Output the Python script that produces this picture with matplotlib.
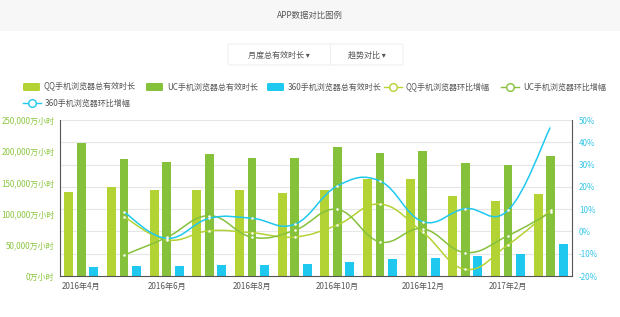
#!/usr/bin/env python3
"""APP数据对比图例 - bars with smoothed growth lines"""

import numpy as np
import matplotlib
matplotlib.use('Agg')
import matplotlib.pyplot as plt
from matplotlib.path import Path
from matplotlib.patches import PathPatch, Rectangle, FancyBboxPatch
from matplotlib.lines import Line2D
from matplotlib.ticker import FuncFormatter

plt.rcParams['font.family'] = ['Noto Sans CJK SC', 'DejaVu Sans']

months = ['2016年4月', '2016年5月', '2016年6月', '2016年7月', '2016年8月', '2016年9月',
          '2016年10月', '2016年11月', '2016年12月', '2017年1月', '2017年2月', '2017年3月']
qq_hours = [135000, 143000, 138000, 138000, 138000, 133500, 138000, 155500, 155000, 127700, 120700, 131900]
uc_hours = [212600, 187000, 182000, 195000, 188500, 188500, 207000, 197600, 199800, 181000, 177900, 192300]
s360_hours = [15000, 16500, 16000, 17000, 17600, 18700, 22400, 27200, 29300, 32000, 35300, 51300]
# month-on-month growth, %, starting at 2016年5月
qq_growth = [6.6, -3.8, 0.3, -0.6, -2.5, 2.9, 12.3, -0.3, -17.0, -6.0, 9.5]
uc_growth = [-10.6, -2.7, 7.1, -2.6, 0.5, 9.9, -4.7, 1.2, -9.5, -1.9, 8.5]
s360_growth = [8.7, -3.1, 5.9, 5.9, 3.2, 20.4, 22.6, 4.4, 10.2, 9.5, 47.0]

QQ_COLOR = '#b3d234'
UC_COLOR = '#86c13c'
C360_COLOR = '#1fc8ef'
LEFT_COLOR = '#8cc63f'
RIGHT_COLOR = '#37c6e8'
TEXT_COLOR = '#555555'
FS = 5.8


def smooth_path(xs, ys, k=0.2):
  # bezier through the points, control points from neighbours
  pts = np.column_stack([xs, ys])
  n = len(pts)
  verts = [pts[0]]
  codes = [Path.MOVETO]
  for i in range(n - 1):
    p0 = pts[max(i - 1, 0)]
    p1 = pts[i]
    p2 = pts[i + 1]
    p3 = pts[min(i + 2, n - 1)]
    c1 = p1 + (p2 - p0) * k
    c2 = p2 - (p3 - p1) * k
    verts += [c1, c2, p2]
    codes += [Path.CURVE4] * 3
  return Path(verts, codes)


fig = plt.figure(figsize=(6.2, 3.17), dpi=100)
W, H = 620, 317

def fx(px):
  return px / W

def fy(py):
  return 1 - py / H

# header band
fig.patches.append(Rectangle((0, fy(31)), 1, 31 / H, transform=fig.transFigure,
                             facecolor='#f7f7f7', edgecolor='none', zorder=0))
fig.text(0.5, fy(15), 'APP数据对比图例', ha='center', va='center', fontsize=6.0, color=TEXT_COLOR)

# buttons
fig.patches.append(FancyBboxPatch((fx(228), fy(65)), fx(175), 21 / H, boxstyle='round,pad=0,rounding_size=0.004',
                                  transform=fig.transFigure, facecolor='white', edgecolor='#ebebeb', lw=0.6))
fig.lines.append(Line2D([fx(330), fx(330)], [fy(65), fy(44)], transform=fig.transFigure, color='#ebebeb', lw=0.6))
fig.text(fx(279), fy(55), '月度总有效时长 ▾', ha='center', va='center', fontsize=FS, color=TEXT_COLOR,
         family=['Noto Sans CJK SC', 'DejaVu Sans'])
fig.text(fx(367), fy(55), '趋势对比 ▾', ha='center', va='center', fontsize=FS, color=TEXT_COLOR,
         family=['Noto Sans CJK SC', 'DejaVu Sans'])

# legend
bar_items = [(23, 87, QQ_COLOR, 'QQ手机浏览器总有效时长'),
             (146, 87, UC_COLOR, 'UC手机浏览器总有效时长'),
             (267, 87, C360_COLOR, '360手机浏览器总有效时长')]
for x, y, c, t in bar_items:
  fig.patches.append(FancyBboxPatch((fx(x), fy(y + 4)), fx(17), 8 / H, boxstyle='round,pad=0,rounding_size=0.003',
                                    transform=fig.transFigure, facecolor=c, edgecolor='none'))
  fig.text(fx(x + 21), fy(y), t, ha='left', va='center', fontsize=FS, color=TEXT_COLOR)
line_items = [(384, 87, QQ_COLOR, 'QQ手机浏览器环比增幅'),
              (501, 87, UC_COLOR, 'UC手机浏览器环比增幅'),
              (23, 103, C360_COLOR, '360手机浏览器环比增幅')]
for x, y, c, t in line_items:
  fig.lines.append(Line2D([fx(x), fx(x + 18)], [fy(y), fy(y)], transform=fig.transFigure, color=c, lw=1))
  fig.lines.append(Line2D([fx(x + 9)], [fy(y)], transform=fig.transFigure, marker='o', markersize=5.5,
                          markerfacecolor='white', markeredgecolor=c, markeredgewidth=1, color=c))
  fig.text(fx(x + 22), fy(y), t, ha='left', va='center', fontsize=FS, color=TEXT_COLOR)

# axes
ax = fig.add_axes([fx(60), fy(276), fx(572 - 60), (276 - 120) / H])
ax2 = ax.twinx()

n = len(months)
x = np.arange(n)
bw = 0.21
gap = 0.295
ax.bar(x - gap, qq_hours, bw, color=QQ_COLOR, zorder=2)
ax.bar(x, uc_hours, bw, color=UC_COLOR, zorder=2)
ax.bar(x + gap, s360_hours, bw, color=C360_COLOR, zorder=2)
ax.set_xlim(-0.5, n - 0.5)
ax.set_ylim(0, 250000)
ax.set_yticks(np.arange(0, 250001, 50000))
ax.yaxis.set_major_formatter(FuncFormatter(lambda v, p: '{:,}万小时'.format(int(v))))
ax.set_xticks(x[::2])
ax.set_xticklabels(months[::2])

ax2.set_ylim(-20, 50)
ax2.set_yticks(np.arange(-20, 51, 10))
ax2.yaxis.set_major_formatter(FuncFormatter(lambda v, p: '{:d}%'.format(int(v))))
for v in np.arange(-10, 51, 10):
  ax.axhline((v + 20) / 70 * 250000, color='#e6e6e6', lw=0.8, zorder=0)

xl = x[1:]
for vals, c in [(qq_growth, QQ_COLOR), (uc_growth, UC_COLOR), (s360_growth, C360_COLOR)]:
  ax2.add_patch(PathPatch(smooth_path(xl, vals), facecolor='none', edgecolor=c, lw=1.1, zorder=3))
  ax2.plot(xl, vals, linestyle='none', marker='o', markersize=1.8, markerfacecolor='white',
           markeredgecolor='white', markeredgewidth=0, zorder=4)

for a in (ax, ax2):
  for s in a.spines.values():
    s.set_visible(False)
for s in ('left', 'right', 'bottom'):
  ax2.spines[s].set_visible(True)
  ax2.spines[s].set_color('#555555')
  ax2.spines[s].set_linewidth(0.8)

ax.tick_params(axis='y', length=0, labelsize=FS, labelcolor=LEFT_COLOR, pad=4)
ax.tick_params(axis='x', length=0, labelsize=FS, labelcolor=TEXT_COLOR, pad=4.5)
ax2.tick_params(axis='y', length=0, labelsize=FS, labelcolor=RIGHT_COLOR, pad=5)

fig.savefig('out.png', dpi=100, facecolor='white')
